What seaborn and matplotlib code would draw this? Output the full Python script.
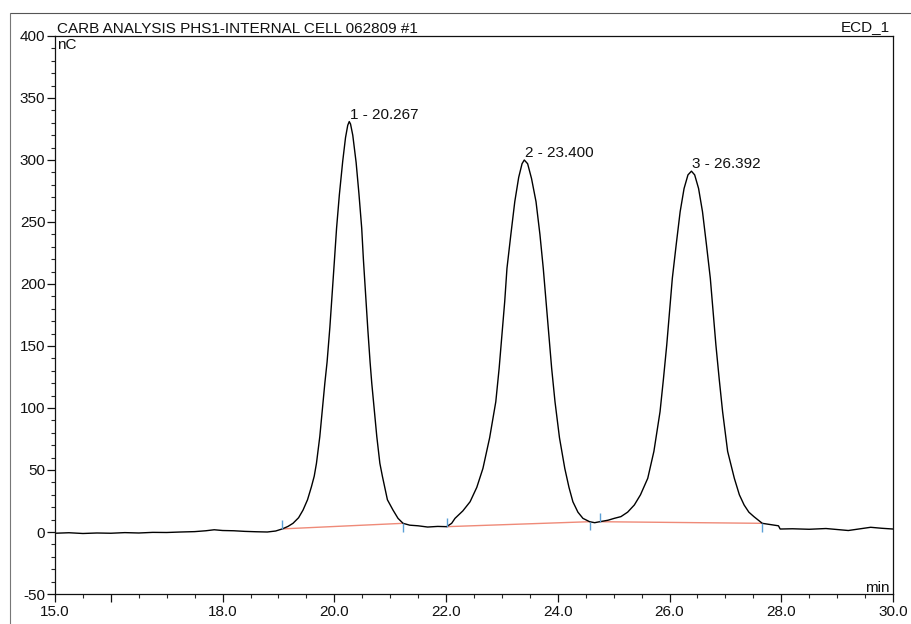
import numpy as np
import pandas as pd
import matplotlib
matplotlib.use("Agg")
import matplotlib.pyplot as plt
import seaborn as sns
from matplotlib.lines import Line2D
from matplotlib.ticker import FixedLocator, MultipleLocator, FixedFormatter

# ---------------- data ----------------
time_min = [
    15.0, 15.25, 15.5, 15.75, 16.0, 16.25, 16.5, 16.75, 17.0, 17.25, 17.5, 17.7,
    17.85, 18.0, 18.2, 18.4, 18.6, 18.8, 18.95,
    # peak 1
    19.07, 19.17, 19.26, 19.36, 19.44, 19.52, 19.59, 19.64, 19.68, 19.74, 19.79,
    19.83, 19.87, 19.92, 19.96, 20.00, 20.04, 20.09, 20.15, 20.20, 20.24, 20.267,
    20.29, 20.33, 20.39, 20.44, 20.49, 20.52, 20.56, 20.60, 20.64, 20.67, 20.71,
    20.76, 20.815, 20.86, 20.90, 20.95, 21.05, 21.14, 21.23, 21.35, 21.5, 21.67,
    21.85,
    # peak 2
    22.01, 22.10, 22.16, 22.30, 22.43, 22.55, 22.66, 22.78, 22.89, 22.95, 23.00,
    23.05, 23.09, 23.16, 23.23, 23.30, 23.36, 23.40, 23.46, 23.53, 23.61, 23.68,
    23.74, 23.79, 23.84, 23.89, 23.95, 24.03, 24.125, 24.20, 24.27, 24.36, 24.45,
    24.57, 24.66,
    # peak 3
    24.75, 24.90, 25.01, 25.13, 25.25, 25.37, 25.48, 25.61, 25.72, 25.83, 25.89,
    25.95, 26.00, 26.05, 26.12, 26.19, 26.26, 26.33, 26.392, 26.45, 26.52, 26.59,
    26.66, 26.73, 26.78, 26.83, 26.89, 26.95, 27.04, 27.16, 27.25, 27.335, 27.42,
    27.51, 27.66, 27.80, 27.95, 27.98,
    28.2, 28.5, 28.8, 29.0, 29.2, 29.4, 29.6, 29.8, 30.0,
]
signal_nc = [
    -1.0, -0.6, -1.2, -0.8, -1.0, -0.5, -0.8, -0.3, -0.4, 0.0, 0.3, 1.0,
    1.8, 1.2, 1.0, 0.5, 0.2, 0.0, 0.8,
    # peak 1
    2.5, 4.5, 7.0, 11.5, 17.7, 26.0, 36.5, 45.0, 55.4, 77.0, 101.0,
    120.0, 137.0, 165.0, 191.0, 218.0, 245.0, 272.0, 299.0, 318.0, 328.0, 331.0,
    329.0, 320.0, 298.0, 273.0, 245.0, 220.0, 191.0, 163.0, 137.0, 120.0, 101.0,
    77.0, 55.4, 45.0, 36.5, 26.0, 17.7, 11.0, 7.0, 5.5, 5.0, 4.0,
    4.5,
    # peak 2
    4.3, 7.0, 11.0, 17.0, 24.4, 36.0, 51.3, 76.0, 105.0, 132.0, 159.0,
    186.0, 212.6, 240.0, 266.4, 286.0, 297.0, 300.0, 297.0, 285.0, 266.4, 240.0,
    212.6, 186.0, 159.0, 132.0, 105.0, 76.0, 51.3, 36.0, 24.4, 16.0, 11.0,
    8.3, 7.5,
    # peak 3
    8.3, 9.5, 11.0, 12.4, 16.0, 21.8, 30.0, 43.3, 65.0, 97.0, 123.0,
    150.8, 178.0, 204.6, 232.0, 258.3, 277.0, 288.0, 291.0, 288.0, 277.0, 258.3,
    232.0, 204.6, 178.0, 150.8, 123.0, 97.0, 65.0, 43.3, 30.0, 21.8, 16.0,
    12.4, 7.0, 6.0, 5.0, 2.4,
    2.6, 2.2, 2.8, 2.0, 1.2, 2.5, 3.8, 3.0, 2.4,
]

peak_labels = ["1 - 20.267", "2 - 23.400", "3 - 26.392"]
peak_times = [20.267, 23.400, 26.392]
peak_heights = [331.0, 300.0, 291.0]

base_start_t = [19.07, 22.01, 24.75]
base_start_v = [2.5, 4.3, 8.3]
base_end_t = [21.23, 24.57, 27.66]
base_end_v = [7.0, 8.3, 7.0]

x_major_ticks = [15, 16, 18, 20, 22, 24, 26, 28, 30]
x_tick_labels = ["15.0", "", "18.0", "20.0", "22.0", "24.0", "26.0", "28.0", "30.0"]
y_major_ticks = [-50, 0, 50, 100, 150, 200, 250, 300, 350, 400]
y_tick_labels = ["-50", "0", "50", "100", "150", "200", "250", "300", "350", "400"]

title_text = "CARB ANALYSIS PHS1-INTERNAL CELL 062809 #1"
channel_text = "ECD_1"

# ---------------- figure ----------------
sns.set_style("ticks")
plt.rcParams["font.family"] = ["Liberation Sans", "DejaVu Sans"]
plt.rcParams["axes.linewidth"] = 0.9

W, H = 911, 624
fig = plt.figure(figsize=(W / 100, H / 100), dpi=100)
fig.patch.set_facecolor("white")
ax = fig.add_axes([55 / W, 1 - 594 / H, (893 - 55) / W, (594 - 36) / H])

df = pd.DataFrame({"time": time_min, "signal": signal_nc})
sns.lineplot(data=df, x="time", y="signal", ax=ax, color="black",
             linewidth=1.0, sort=False, estimator=None)

# integration baselines
for ts, vs, te, ve in zip(base_start_t, base_start_v, base_end_t, base_end_v):
    ax.plot([ts, te], [vs, ve], color="#ef8a78", linewidth=1.0, zorder=1)
tick_len = 7.0
ax.vlines(base_start_t, base_start_v, np.add(base_start_v, tick_len),
          color="#5b9fd6", linewidth=1.0, zorder=3)
ax.vlines(base_end_t, np.subtract(base_end_v, tick_len), base_end_v,
          color="#5b9fd6", linewidth=1.0, zorder=3)

# peak labels
for lab, t, h in zip(peak_labels, peak_times, peak_heights):
    ax.annotate(lab, xy=(t, h), xytext=(0.5, 2.2), textcoords="offset points",
                ha="left", va="baseline", fontsize=11, color="#111111")

ax.set_xlim(15, 30)
ax.set_ylim(-50, 400)
ax.set_xlabel("")
ax.set_ylabel("")

ax.xaxis.set_major_locator(FixedLocator(x_major_ticks))
ax.xaxis.set_major_formatter(FixedFormatter(x_tick_labels))
ax.xaxis.set_minor_locator(MultipleLocator(0.5))
ax.yaxis.set_major_locator(FixedLocator(y_major_ticks))
ax.yaxis.set_major_formatter(FixedFormatter(y_tick_labels))
ax.yaxis.set_minor_locator(MultipleLocator(10))

ax.tick_params(axis="both", which="major", direction="out", length=6,
               width=0.9, labelsize=11, colors="#111111")
ax.tick_params(axis="x", which="major", pad=2)
ax.tick_params(axis="y", which="major", pad=1)
ax.tick_params(axis="both", which="minor", direction="out", length=3, width=0.8)
for s in ax.spines.values():
    s.set_visible(True)
    s.set_color("#111111")
    s.set_linewidth(0.9)

# header texts and axis units
fig.text(57 / W, 1 - 33 / H, title_text, ha="left", va="baseline",
         fontsize=11, color="#111111")
fig.text(890 / W, 1 - 31.5 / H, channel_text, ha="right", va="baseline",
         fontsize=11, color="#111111", zorder=10)
fig.text(57 / W, 1 - 49 / H, "nC", ha="left", va="baseline",
         fontsize=11, color="#111111")
fig.text(890 / W, 1 - 592 / H, "min", ha="right", va="baseline",
         fontsize=11, color="#111111")

# outer page frame
fig.add_artist(Line2D([10 / W, 1.0], [1 - 13 / H, 1 - 13 / H],
                      transform=fig.transFigure, color="#555555", linewidth=0.8))
fig.add_artist(Line2D([10 / W, 10 / W], [0.0, 1 - 13 / H],
                      transform=fig.transFigure, color="#777777", linewidth=0.8))

fig.savefig("out.png", dpi=100, facecolor="white")
